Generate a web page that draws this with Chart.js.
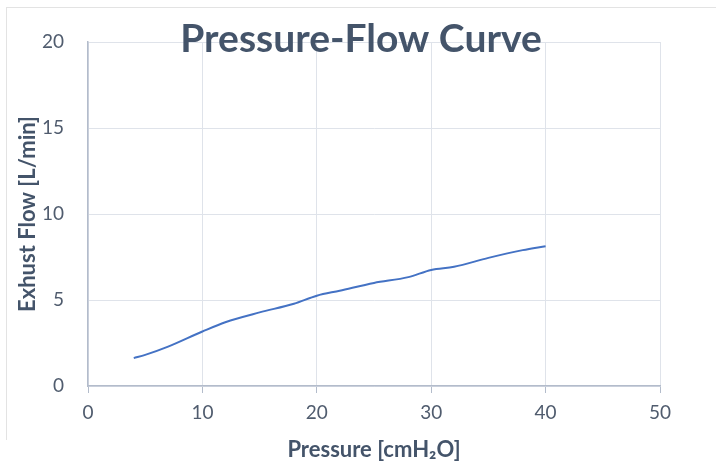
<!DOCTYPE html>
<html>
<head>
<meta charset="utf-8">
<script src="https://cdn.jsdelivr.net/npm/chart.js@4"></script>
<style>
  html, body { margin: 0; padding: 0; background: #fff; }
  #wrap { position: relative; width: 716px; height: 464px; }
  #frame { position: absolute; left: 6px; top: 7px; right: 0; height: 432px;
           border-left: 1px solid #e3e3e3; border-top: 1px solid #e3e3e3; }
</style>
</head>
<body>
<div id="wrap">
  <div id="frame"></div>
  <canvas id="myChart" width="716" height="464"></canvas>
</div>
<script>
// pressure [cmH2O] and exhaust flow [L/min]
var pressure = [4, 5, 7, 10, 12, 15, 18, 20, 22, 25, 28, 30, 32, 35, 38, 40];
var flow = [1.62, 1.81, 2.29, 3.17, 3.71, 4.28, 4.78, 5.25, 5.54, 5.99, 6.33, 6.75, 6.93, 7.45, 7.9, 8.13];

var titleText = 'Pressure-Flow Curve';
var xTitle = 'Pressure [cmH\u2082O]';
var yTitle = 'Exhust Flow [L/min]';

var textColor = '#44546a';
var tickColor = '#505c6e';
var gridColor = '#dfe3ea';
var axisColor = '#b3bccb';

var points = pressure.map(function (p, i) { return { x: p, y: flow[i] }; });

// title sits over the plot area, like the original
var overlayTitle = {
    id: 'overlayTitle',
    afterDraw: function (chart) {
        var ctx = chart.ctx;
        ctx.save();
        ctx.font = 'bold 39px Lato';
        ctx.fillStyle = textColor;
        ctx.textAlign = 'center';
        ctx.textBaseline = 'alphabetic';
        ctx.fillText(titleText, 361, 52);
        ctx.restore();
    }
};

var ctx = document.getElementById('myChart').getContext('2d');
var chart = new Chart(ctx, {
    type: 'line',
    data: {
        datasets: [{
            label: 'Flow',
            data: points,
            borderColor: '#4472c4',
            backgroundColor: '#4472c4',
            borderWidth: 2,
            pointRadius: 0,
            fill: false,
            cubicInterpolationMode: 'monotone'
        }]
    },
    options: {
        responsive: false,
        animation: false,
        layout: { padding: { left: 0, right: 56, top: 42, bottom: 0 } },
        plugins: {
            legend: { display: false },
            title: { display: false },
            tooltip: { enabled: false }
        },
        scales: {
            x: {
                type: 'linear',
                min: 0,
                max: 50,
                ticks: { stepSize: 10, color: tickColor, font: { family: 'Lato', size: 19 }, padding: 8 },
                grid: { color: gridColor, tickColor: axisColor, tickLength: 7 },
                border: { color: axisColor, width: 1.5 },
                title: {
                    display: true,
                    text: xTitle,
                    color: textColor,
                    font: { family: 'Lato', size: 22, weight: 'bold' },
                    padding: { top: 1, bottom: 1 }
                },
                afterFit: function (scale) { scale.height = 78; }
            },
            y: {
                min: 0,
                max: 20,
                ticks: { stepSize: 5, color: tickColor, font: { family: 'Lato', size: 19 }, padding: 24 },
                grid: { color: gridColor, drawTicks: false },
                border: { color: axisColor, width: 1.5 },
                title: {
                    display: true,
                    text: yTitle,
                    color: textColor,
                    font: { family: 'Lato', size: 22, weight: 'bold' },
                    padding: { top: 15, bottom: 0 }
                },
                afterFit: function (scale) { scale.width = 88; }
            }
        }
    },
    plugins: [overlayTitle]
});
</script>
</body>
</html>
